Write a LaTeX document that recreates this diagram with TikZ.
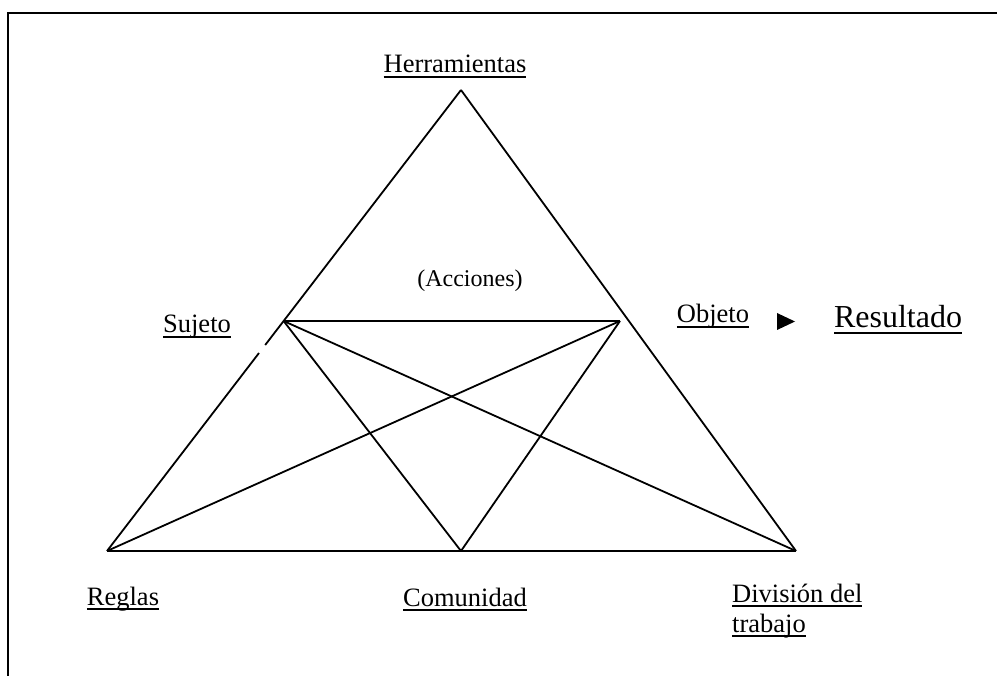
\documentclass[tikz,border=0pt]{standalone}
\usepackage{fontspec}
\setmainfont{Liberation Serif}
\newcommand\myul[1]{\setbox0\hbox{#1}\rlap{\rule[-0.18em]{\wd0}{0.07em}}\box0}
\begin{document}
\begin{tikzpicture}[x=1pt,y=-1pt,
  edge/.style={line width=1.8pt,black},
  frame/.style={line width=2pt,black},
  lbl/.style={inner sep=0pt,font=\fontsize{26.5}{31}\selectfont},
]
\useasboundingbox (0,0) rectangle (997,676);
% frame
\coordinate (f0) at (8,13);
\coordinate (f1) at (997,13);
\coordinate (f2) at (8,676);
\draw[frame] (f1) -- (f0) -- (f2);
% triangle points
\coordinate (A) at (461,90);
\coordinate (L) at (107,551);
\coordinate (R) at (796,551);
\coordinate (M) at (461,551);
\coordinate (S) at (283.6,321);
\coordinate (O) at (620,321);
\coordinate (g1) at (265.2,345);
\coordinate (g2) at (259.0,353);
% outer triangle
\draw[edge] (A) -- (g1);
\draw[edge] (g2) -- (L);
\draw[edge] (A) -- (R);
\draw[edge] (L) -- (R);
% inner lines
\draw[edge] (S) -- (O);
\draw[edge] (S) -- (M);
\draw[edge] (S) -- (R);
\draw[edge] (O) -- (L);
\draw[edge] (O) -- (M);
% labels
\node[lbl,anchor=base] (herr) at (455,73) {\myul{Herramientas}};
\node[lbl,anchor=base] (suj) at (197,333) {\myul{Sujeto}};
\node[lbl,anchor=base] (obj) at (713,323) {\myul{Objeto}};
\node[lbl,anchor=base,font=\fontsize{32}{38}\selectfont] (res) at (898,328) {\myul{Resultado}};
\node[lbl,anchor=base,font=\fontsize{24}{29}\selectfont] (acc) at (470,287) {(Acciones)};
\node[lbl,anchor=base] (reg) at (123,605) {\myul{Reglas}};
\node[lbl,anchor=base] (com) at (465,606) {\myul{Comunidad}};
\node[lbl,anchor=base west] (div1) at (732,602) {\myul{División del}};
\node[lbl,anchor=base west] (div2) at (732,632) {\myul{trabajo}};
% arrow marker
\fill (777,313) -- (777,330) -- (795,321.5) -- cycle;
\end{tikzpicture}
\end{document}
